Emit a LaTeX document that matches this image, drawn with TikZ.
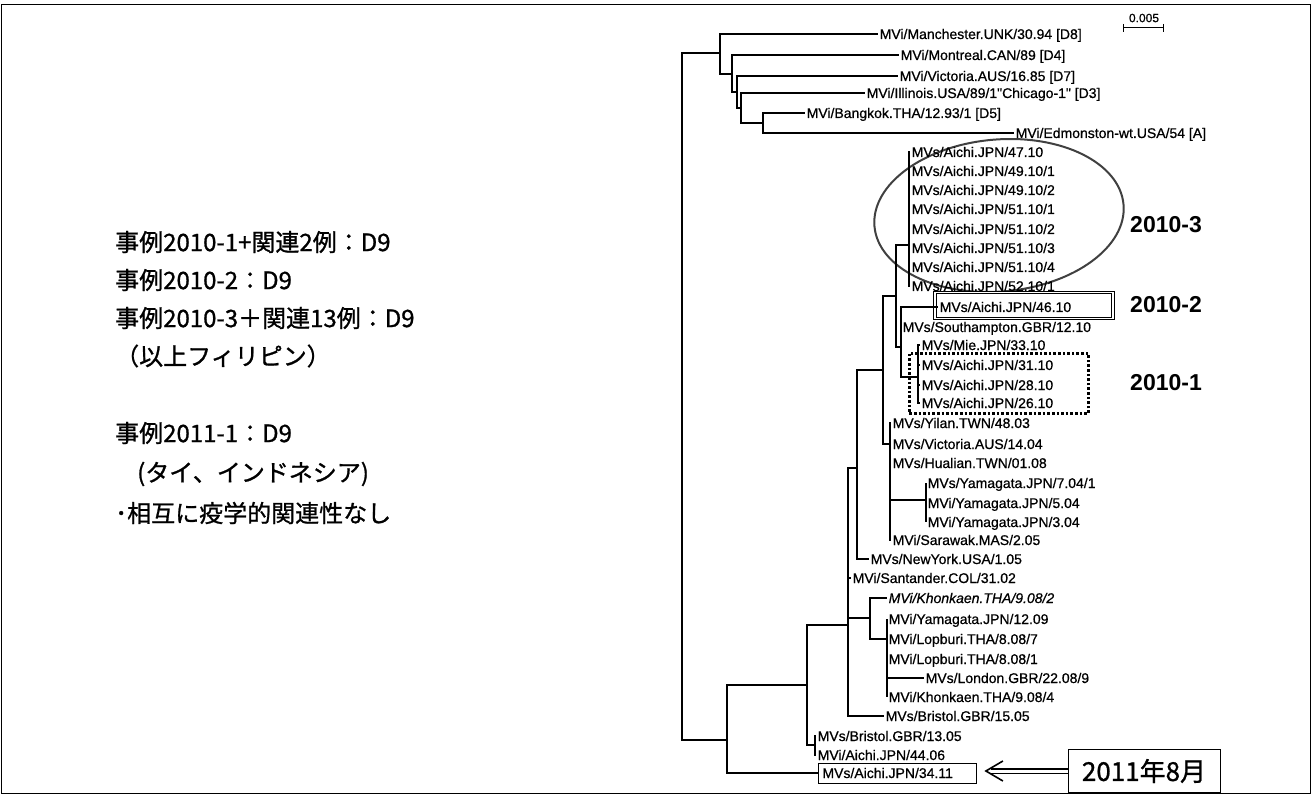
\documentclass[tikz,border=0pt]{standalone}
\usepackage{fontspec}
\setmainfont{Liberation Sans}
\newfontfamily\lab{Liberation Sans}[FakeBold=0.7]
\newfontfamily\cjk{Noto Sans CJK JP}[FakeBold=1.0]
\usetikzlibrary{arrows.meta}
\begin{document}
\begin{tikzpicture}[x=1pt,y=-1pt,
  br/.style={line width=1.2pt},
  leaf/.style={anchor=west, inner xsep=1.5pt, inner ysep=0pt, text height=10pt, text depth=0pt, font=\lab\fontsize{14}{16}\selectfont},
  grp/.style={anchor=west, inner sep=0pt, font=\bfseries\fontsize{23}{26}\selectfont},
  jp/.style={anchor=west, inner sep=0pt, font=\cjk\fontsize{24}{28}\selectfont},
  dbox/.style={draw, double, double distance=1.8pt, line width=0.8pt, minimum width=178pt, minimum height=26pt, inner sep=0pt},
  dotbox/.style={draw, line width=2.6pt, dash pattern=on 2.6pt off 2pt, minimum width=179pt, minimum height=60pt, inner sep=0pt},
  ell/.style={draw=black!75, line width=2pt},
  shaft/.style={line width=1.1pt, double, double distance=3pt},
  chevron/.style={line width=1.6pt, line join=miter}
]
\useasboundingbox (0,0) rectangle (1312,794);
% frame
\draw[line width=1pt] (1,5) rectangle (1310,793);

% scale bar
\node[inner sep=0pt, font=\lab\fontsize{12}{13}\selectfont] (sbt) at (1144,18) {0.005};
\coordinate (sbL) at (1123,28);
\coordinate (sbR) at (1163,28);
\draw[line width=1pt] (sbL) -- (sbR);
\draw[line width=1pt] (sbL) ++(0,-4) -- ++(0,8);
\draw[line width=1pt] (sbR) ++(0,-4) -- ++(0,8);

% internal nodes
\coordinate (root) at (682,400);
\coordinate (nA) at (720,53);
\coordinate (nB) at (732,74);
\coordinate (nC) at (737,92);
\coordinate (nD) at (741,108);
\coordinate (nE) at (763,123);
\coordinate (n727) at (727,740);
\coordinate (n807) at (807,685);
\coordinate (n815) at (815,745);
\coordinate (n848) at (848,625);
\coordinate (n857) at (857,468);
\coordinate (n883) at (883,370);
\coordinate (n896) at (896,296);
\coordinate (n909) at (909,245);
\coordinate (n901) at (901,347);
\coordinate (n918) at (918,377);
\coordinate (n890) at (890,444);
\coordinate (n926) at (926,500);
\coordinate (n870) at (870,618);
\coordinate (n887) at (887,639);

% highlight shapes
\coordinate (ec) at (999,215.5);
\draw[ell] (ec) circle [x radius=125, y radius=76, rotate=5];
\node[dbox] (box2) at (1024,305.5) {};
\node[dotbox, anchor=north west] (box1) at (908,352) {};

% leaves
\node[leaf] (man) at (878,34) {MVi/Manchester.UNK/30.94 [D8]};
\node[leaf] (mon) at (899,55) {MVi/Montreal.CAN/89 [D4]};
\node[leaf] (vic) at (898,76) {MVi/Victoria.AUS/16.85 [D7]};
\node[leaf] (ill) at (865,93) {MVi/Illinois.USA/89/1"Chicago-1" [D3]};
\node[leaf] (bkk) at (805,113) {MVi/Bangkok.THA/12.93/1 [D5]};
\node[leaf] (edm) at (1014,133) {MVi/Edmonston-wt.USA/54 [A]};
\node[leaf] (c1) at (910,152) {MVs/Aichi.JPN/47.10};
\node[leaf] (c2) at (910,171) {MVs/Aichi.JPN/49.10/1};
\node[leaf] (c3) at (910,190) {MVs/Aichi.JPN/49.10/2};
\node[leaf] (c4) at (910,209) {MVs/Aichi.JPN/51.10/1};
\node[leaf] (c5) at (910,229) {MVs/Aichi.JPN/51.10/2};
\node[leaf] (c6) at (910,248) {MVs/Aichi.JPN/51.10/3};
\node[leaf] (c7) at (910,267) {MVs/Aichi.JPN/51.10/4};
\node[leaf] (c8) at (910,286) {MVs/Aichi.JPN/52.10/1};
\node[leaf] (a46) at (938,307) {MVs/Aichi.JPN/46.10};
\node[leaf] (sth) at (901,327) {MVs/Southampton.GBR/12.10};
\node[leaf] (mie) at (920,345) {MVs/Mie.JPN/33.10};
\node[leaf] (a31) at (920,365) {MVs/Aichi.JPN/31.10};
\node[leaf] (a28) at (920,385) {MVs/Aichi.JPN/28.10};
\node[leaf] (a26) at (920,403) {MVs/Aichi.JPN/26.10};
\node[leaf] (yil) at (891,423) {MVs/Yilan.TWN/48.03};
\node[leaf] (v14) at (891,444) {MVs/Victoria.AUS/14.04};
\node[leaf] (hua) at (891,463) {MVs/Hualian.TWN/01.08};
\node[leaf] (y7) at (926,483) {MVs/Yamagata.JPN/7.04/1};
\node[leaf] (y5) at (926,503) {MVi/Yamagata.JPN/5.04};
\node[leaf] (y3) at (926,522) {MVi/Yamagata.JPN/3.04};
\node[leaf] (sar) at (891,540) {MVi/Sarawak.MAS/2.05};
\node[leaf] (nyk) at (869,559) {MVs/NewYork.USA/1.05};
\node[leaf] (san) at (851,578) {MVi/Santander.COL/31.02};
\node[leaf, font=\lab\itshape\fontsize{14}{16}\selectfont] (kh2) at (887,598) {MVi/Khonkaen.THA/9.08/2};
\node[leaf] (y12) at (887,619) {MVi/Yamagata.JPN/12.09};
\node[leaf] (lp7) at (887,639) {MVi/Lopburi.THA/8.08/7};
\node[leaf] (lp1) at (887,659) {MVi/Lopburi.THA/8.08/1};
\node[leaf] (lon) at (924,678) {MVs/London.GBR/22.08/9};
\node[leaf] (kh4) at (887,697) {MVi/Khonkaen.THA/9.08/4};
\node[leaf] (b15) at (884,716) {MVs/Bristol.GBR/15.05};
\node[leaf] (b13) at (816,736) {MVs/Bristol.GBR/13.05};
\node[leaf] (a44) at (816,755) {MVi/Aichi.JPN/44.06};
\node[leaf, draw, line width=0.9pt, text width=150pt, align=left, inner xsep=4pt, minimum height=20pt] (a34) at (818,773) {MVs/Aichi.JPN/34.11};

% internal branches
\foreach \p/\c in {root/nA, root/n727, nA/nB, nB/nC, nC/nD, nD/nE, n727/n807, n807/n848, n807/n815, n848/n857, n848/n870, n857/n883, n883/n896, n883/n890, n896/n909, n896/n901, n901/n918, n890/n926, n870/n887}
  \draw[br] (\p) |- (\c);
% terminal branches
\foreach \p/\c in {nA/man, nB/mon, nC/vic, nD/ill, nE/bkk, nE/edm, n909/c1, n909/c2, n909/c3, n909/c4, n909/c5, n909/c6, n909/c7, n909/c8, n901/a46, n901/sth, n918/mie, n918/a31, n918/a28, n918/a26, n890/yil, n890/v14, n890/hua, n890/sar, n926/y7, n926/y5, n926/y3, n857/nyk, n848/san, n848/b15, n870/kh2, n887/y12, n887/lp7, n887/lp1, n887/lon, n887/kh4, n815/b13, n815/a44, n727/a34}
  \draw[br] (\p) |- (\c.west);

% group labels
\node[grp] (g3) at (1130,225) {2010-3};
\node[grp] (g2) at (1130,305) {2010-2};
\node[grp] (g1) at (1130,383) {2010-1};

% year box and double arrow
\node[draw, line width=1pt, minimum width=152pt, minimum height=43pt, inner sep=0pt, font=\cjk\fontsize{26}{30}\selectfont] (yr) at (1144,771) {2011年8月};
\path (a34.east |- yr.west) ++(9,0) coordinate (tip);
\draw[shaft] (yr.west) -- ([xshift=5pt]tip);
\draw[chevron] (tip) ++(17,-10) -- (tip) -- ++(17,10);

% left text
\node[jp] (j1) at (115,242) {事例2010-1+関連2例：D9};
\node[jp] (j2) at (115,280) {事例2010-2：D9};
\node[jp] (j3) at (115,318) {事例2010-3＋関連13例：D9};
\node[jp] (j4) at (115,356) {（以上フィリピン）};
\node[jp] (j5) at (115,433) {事例2011-1：D9};
\node[jp] (j6) at (137,474) {(タイ、インドネシア)};
\node[jp] (j7) at (115,513) {･相互に疫学的関連性なし};
\end{tikzpicture}
\end{document}
